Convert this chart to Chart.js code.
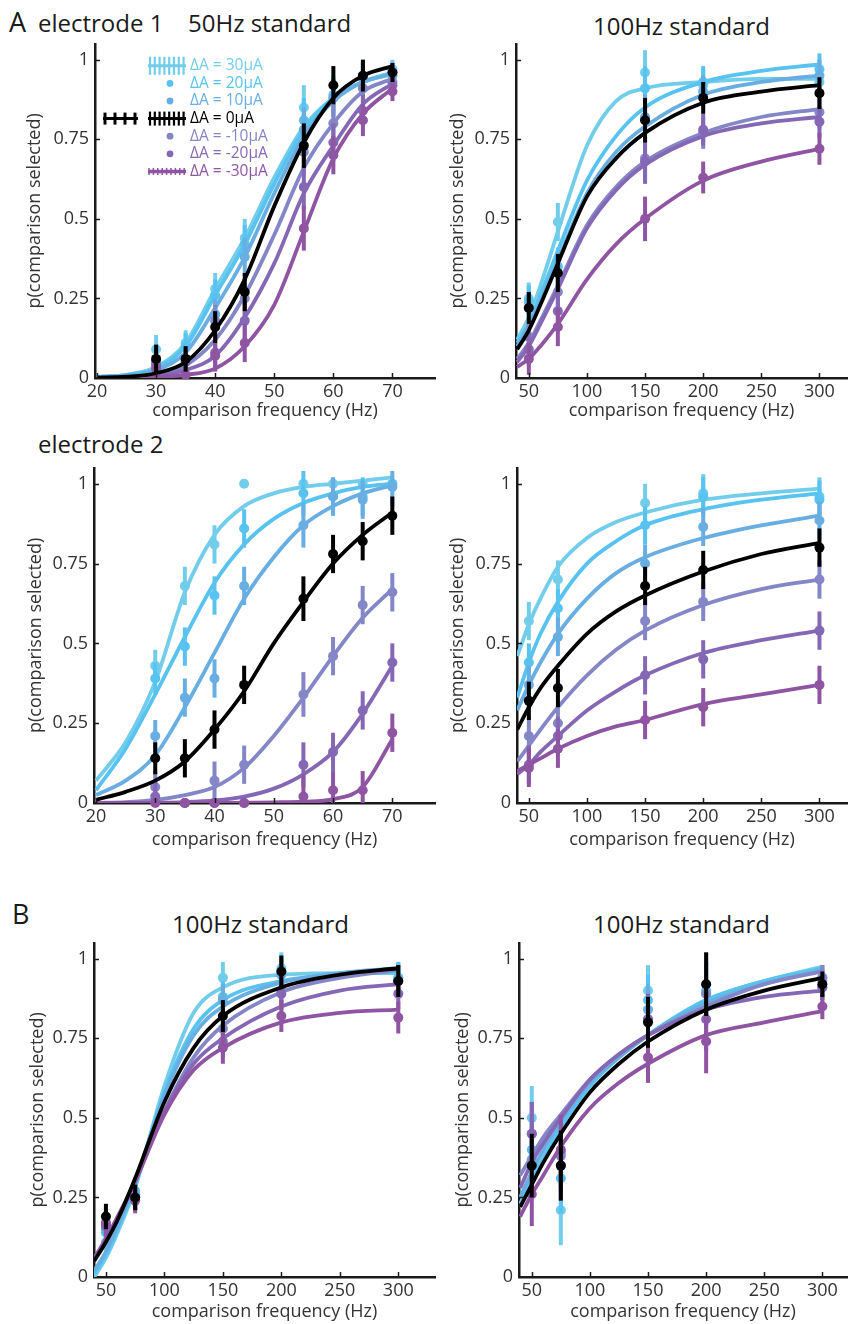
<!DOCTYPE html>
<html>
<head>
<meta charset="utf-8">
<script src="https://cdn.jsdelivr.net/npm/chart.js@4.4.1/dist/chart.umd.min.js"></script>
<style>
  body { margin: 0; background: #fff; width: 852px; height: 1324px; position: relative; overflow: hidden; font-family: 'Open Sans', sans-serif; }
  canvas { position: absolute; }
  .lbl { position: absolute; color: #1a1a1a; white-space: nowrap; line-height: 1; }
</style>
</head>
<body>
<div class="lbl" style="left:9px; top:8px; font-size:27px">A</div>
<div class="lbl" style="left:38px; top:11px; font-size:24px">electrode 1</div>
<div class="lbl" style="left:188px; top:11px; font-size:24px">50Hz standard</div>
<div class="lbl" style="left:593px; top:14px; font-size:24px">100Hz standard</div>
<div class="lbl" style="left:38px; top:432px; font-size:24px">electrode 2</div>
<div class="lbl" style="left:12px; top:900px; font-size:27px">B</div>
<div class="lbl" style="left:172px; top:912px; font-size:24px">100Hz standard</div>
<div class="lbl" style="left:593px; top:912px; font-size:24px">100Hz standard</div>

<canvas id="p1"></canvas>
<canvas id="p2"></canvas>
<canvas id="p3"></canvas>
<canvas id="p4"></canvas>
<canvas id="p5"></canvas>
<canvas id="p6"></canvas>

<script>
// ---------- series ----------
const seriesLabels = ['ΔA = 30μA', 'ΔA = 20μA', 'ΔA = 10μA', 'ΔA = 0μA', 'ΔA = -10μA', 'ΔA = -20μA', 'ΔA = -30μA'];
const seriesColors = ['#72CDEB', '#58C3F0', '#68AEE2', '#000000', '#8486C7', '#8467B5', '#8F55A3'];

// ---------- x positions / ticks ----------
const freqLow = [30, 35, 40, 45, 55, 60, 65, 70];
const freqHigh = [50, 75, 150, 200, 300];
const fitLow = [20, 25, 30, 35, 40, 45, 50, 55, 60, 65, 70];
const fitHigh = [40, 50, 60, 75, 100, 125, 150, 200, 250, 300];
const yTicks = [0, 0.25, 0.5, 0.75, 1];
const xTicksLow = [20, 30, 40, 50, 60, 70];
const xTicksHigh = [50, 100, 150, 200, 250, 300];

// ---------- electrode 1, 50Hz standard ----------
const e1s50Pts = [
  [0.09, 0.11, 0.28, 0.44, 0.85, 0.89, 0.94, 0.97],
  [0.05, 0.10, 0.26, 0.42, 0.81, 0.88, 0.95, 0.96],
  [0.05, 0.06, 0.20, 0.38, 0.78, 0.88, 0.94, 0.95],
  [0.06, 0.06, 0.16, 0.27, 0.73, 0.92, 0.95, 0.96],
  [0.05, 0.06, 0.18, 0.25, 0.71, 0.80, 0.91, 0.93],
  [0.04, 0.05, 0.08, 0.18, 0.60, 0.74, 0.84, 0.92],
  [0.03, 0.01, 0.07, 0.11, 0.47, 0.70, 0.81, 0.90]
];
const e1s50Err = [0.045, 0.04, 0.05, 0.06, 0.07, 0.06, 0.05, 0.03];
const e1s50Fit = [
  [0.003, 0.01, 0.035, 0.11, 0.28, 0.44, 0.63, 0.79, 0.88, 0.93, 0.955],
  [0.003, 0.01, 0.03, 0.10, 0.26, 0.42, 0.61, 0.78, 0.88, 0.93, 0.96],
  [0.002, 0.008, 0.025, 0.08, 0.22, 0.38, 0.58, 0.76, 0.87, 0.93, 0.955],
  [0.001, 0.004, 0.015, 0.05, 0.15, 0.31, 0.54, 0.74, 0.88, 0.95, 0.98],
  [0.001, 0.003, 0.01, 0.04, 0.12, 0.26, 0.45, 0.66, 0.80, 0.90, 0.94],
  [0, 0.002, 0.006, 0.025, 0.07, 0.19, 0.36, 0.58, 0.73, 0.86, 0.925],
  [0, 0.001, 0.003, 0.01, 0.03, 0.10, 0.23, 0.46, 0.69, 0.83, 0.91]
];

// ---------- electrode 1, 100Hz standard ----------
const e1s100Pts = [
  [0.25, 0.49, 0.96, 0.92, 0.93],
  [0.24, 0.35, 0.91, 0.93, 0.97],
  [0.22, 0.33, 0.82, 0.90, 0.95],
  [0.22, 0.33, 0.81, 0.88, 0.895],
  [0.13, 0.27, 0.69, 0.77, 0.835],
  [0.09, 0.21, 0.68, 0.78, 0.805],
  [0.06, 0.16, 0.50, 0.63, 0.72]
];
const e1s100Err = [0.05, 0.06, 0.07, 0.05, 0.05];
const e1s100Fit = [
  [0.12, 0.19, 0.29, 0.46, 0.73, 0.87, 0.91, 0.93, 0.94, 0.94],
  [0.11, 0.17, 0.26, 0.40, 0.62, 0.76, 0.85, 0.93, 0.965, 0.985],
  [0.10, 0.16, 0.24, 0.37, 0.58, 0.71, 0.79, 0.89, 0.93, 0.95],
  [0.09, 0.15, 0.23, 0.36, 0.57, 0.69, 0.77, 0.865, 0.90, 0.92],
  [0.06, 0.11, 0.18, 0.29, 0.48, 0.60, 0.68, 0.77, 0.82, 0.845],
  [0.05, 0.10, 0.17, 0.28, 0.47, 0.59, 0.67, 0.76, 0.80, 0.82],
  [0.035, 0.06, 0.10, 0.17, 0.31, 0.42, 0.50, 0.62, 0.68, 0.72]
];

// ---------- electrode 2, 50Hz standard ----------
const e2s50Pts = [
  [0.43, 0.68, 0.81, 1.0, 1.0, 1.0, 1.0, 1.0],
  [0.39, 0.49, 0.65, 0.86, 0.97, 0.96, 0.96, 1.0],
  [0.21, 0.33, 0.39, 0.68, 0.87, 0.96, 0.95, 0.99],
  [0.14, 0.14, 0.23, 0.37, 0.64, 0.78, 0.82, 0.90],
  [0.05, 0.0, 0.07, 0.12, 0.34, 0.46, 0.62, 0.66],
  [0.02, 0.0, 0.0, 0.0, 0.12, 0.16, 0.29, 0.44],
  [0.0, 0.0, 0.0, 0.0, 0.02, 0.04, 0.04, 0.22]
];
const e2s50Err = [0.05, 0.06, 0.06, 0.06, 0.07, 0.06, 0.06, 0.06];
const e2s50Fit = [
  [0.07, 0.19, 0.38, 0.66, 0.84, 0.93, 0.97, 0.99, 1.0, 1.01, 1.02],
  [0.04, 0.17, 0.34, 0.52, 0.69, 0.81, 0.89, 0.94, 0.97, 0.99, 1.0],
  [0.025, 0.07, 0.15, 0.30, 0.47, 0.64, 0.77, 0.87, 0.93, 0.97, 0.995],
  [0.01, 0.035, 0.07, 0.13, 0.23, 0.35, 0.50, 0.63, 0.75, 0.84, 0.91],
  [0, 0.003, 0.01, 0.025, 0.05, 0.11, 0.21, 0.33, 0.46, 0.58, 0.67],
  [0, 0, 0.001, 0.003, 0.008, 0.02, 0.045, 0.09, 0.16, 0.28, 0.43],
  [0, 0, 0, 0, 0, 0.001, 0.002, 0.004, 0.012, 0.05, 0.20]
];

// ---------- electrode 2, 100Hz standard ----------
const e2s100Pts = [
  [0.57, 0.70, 0.94, 0.97, 0.96],
  [0.44, 0.61, 0.87, 0.96, 0.95],
  [0.37, 0.52, 0.75, 0.865, 0.885],
  [0.32, 0.36, 0.68, 0.73, 0.80],
  [0.21, 0.25, 0.57, 0.63, 0.70],
  [0.12, 0.21, 0.40, 0.45, 0.54],
  [0.11, 0.17, 0.26, 0.30, 0.37]
];
const e2s100Err = [0.06, 0.06, 0.06, 0.06, 0.06];
const e2s100Fit = [
  [0.46, 0.56, 0.64, 0.74, 0.83, 0.88, 0.91, 0.95, 0.97, 0.985],
  [0.33, 0.44, 0.53, 0.63, 0.75, 0.82, 0.87, 0.92, 0.95, 0.97],
  [0.29, 0.37, 0.44, 0.53, 0.64, 0.72, 0.77, 0.83, 0.87, 0.90],
  [0.23, 0.30, 0.36, 0.43, 0.53, 0.60, 0.65, 0.725, 0.78, 0.815],
  [0.13, 0.18, 0.23, 0.30, 0.40, 0.48, 0.54, 0.62, 0.67, 0.70],
  [0.09, 0.12, 0.16, 0.21, 0.29, 0.35, 0.40, 0.47, 0.51, 0.54],
  [0.10, 0.12, 0.14, 0.17, 0.21, 0.24, 0.26, 0.31, 0.34, 0.37]
];

// ---------- B left, 100Hz standard ----------
const bLeftPts = [
  [0.11, 0.27, 0.94, 0.97, 0.94],
  [0.14, 0.27, 0.88, 0.96, 0.94],
  [0.15, 0.26, 0.87, 0.95, 0.93],
  [0.19, 0.25, 0.82, 0.96, 0.93],
  [0.16, 0.25, 0.78, 0.90, 0.93],
  [0.16, 0.25, 0.74, 0.89, 0.89],
  [0.17, 0.24, 0.72, 0.82, 0.815]
];
const bLeftErr = [0.04, 0.04, 0.05, 0.05, 0.05];
const bLeftFit = [
  [0.0, 0.06, 0.14, 0.28, 0.60, 0.83, 0.91, 0.95, 0.955, 0.955],
  [0.01, 0.07, 0.15, 0.29, 0.58, 0.78, 0.87, 0.93, 0.95, 0.96],
  [0.02, 0.08, 0.16, 0.30, 0.57, 0.76, 0.85, 0.925, 0.955, 0.97],
  [0.05, 0.11, 0.18, 0.31, 0.55, 0.72, 0.82, 0.91, 0.95, 0.97],
  [0.06, 0.11, 0.18, 0.30, 0.52, 0.69, 0.79, 0.895, 0.94, 0.965],
  [0.06, 0.11, 0.18, 0.30, 0.52, 0.67, 0.75, 0.85, 0.90, 0.92],
  [0.06, 0.12, 0.19, 0.30, 0.51, 0.65, 0.72, 0.80, 0.83, 0.84]
];

// ---------- B right, 100Hz standard ----------
const bRightPts = [
  [0.50, 0.21, 0.90, 0.92, 0.91],
  [0.40, 0.31, 0.87, 0.90, 0.93],
  [0.37, 0.39, 0.84, 0.89, 0.94],
  [0.35, 0.35, 0.80, 0.92, 0.92],
  [0.45, 0.38, 0.81, 0.89, 0.94],
  [0.45, 0.35, 0.81, 0.81, 0.91],
  [0.26, 0.40, 0.69, 0.74, 0.85]
];
const bRightErr = [0.10, 0.11, 0.08, 0.10, 0.04];
const bRightFit = [
  [0.23, 0.31, 0.38, 0.48, 0.60, 0.69, 0.76, 0.87, 0.93, 0.975],
  [0.22, 0.30, 0.37, 0.47, 0.60, 0.69, 0.76, 0.87, 0.93, 0.97],
  [0.25, 0.33, 0.40, 0.49, 0.61, 0.69, 0.76, 0.86, 0.92, 0.965],
  [0.22, 0.29, 0.36, 0.45, 0.58, 0.67, 0.74, 0.84, 0.90, 0.94],
  [0.32, 0.38, 0.44, 0.51, 0.62, 0.70, 0.76, 0.85, 0.92, 0.96],
  [0.28, 0.36, 0.42, 0.50, 0.62, 0.70, 0.76, 0.84, 0.88, 0.90],
  [0.19, 0.26, 0.32, 0.41, 0.53, 0.61, 0.67, 0.76, 0.80, 0.835]
];

// ==========================================
// drawing helpers
// ==========================================
Chart.defaults.font.family = "'Open Sans', sans-serif";
Chart.defaults.color = '#333';

// error bars (drawn under the markers) + inward MATLAB-style ticks
const decorPlugin = {
  id: 'decor',
  beforeDatasetDraw(chart, args) {
    const ds = chart.data.datasets[args.index];
    if (!ds.errs) return;
    const ctx = chart.ctx, xs = chart.scales.x, ys = chart.scales.y;
    ctx.save();
    ctx.strokeStyle = ds.pointBackgroundColor;
    ctx.lineWidth = 4;
    ds.data.forEach((p, j) => {
      if (p.y <= 0 || p.y >= 1) return;
      const px = xs.getPixelForValue(p.x);
      ctx.beginPath();
      ctx.moveTo(px, ys.getPixelForValue(Math.max(0, p.y - ds.errs[j])));
      ctx.lineTo(px, ys.getPixelForValue(Math.min(1.04, p.y + ds.errs[j])));
      ctx.stroke();
    });
    ctx.restore();
  },
  afterDraw(chart) {
    const ctx = chart.ctx, a = chart.chartArea, xs = chart.scales.x, ys = chart.scales.y;
    ctx.save();
    ctx.strokeStyle = '#1a1a1a';
    ctx.lineWidth = 1.5;
    ys.ticks.forEach(t => {
      if (t.value === 0) return;
      const py = Math.round(ys.getPixelForValue(t.value)) + 0.5;
      ctx.beginPath(); ctx.moveTo(a.left, py); ctx.lineTo(a.left + 5, py); ctx.stroke();
    });
    xs.ticks.forEach(t => {
      const px = Math.round(xs.getPixelForValue(t.value)) + 0.5;
      ctx.beginPath(); ctx.moveTo(px, a.bottom); ctx.lineTo(px, a.bottom - 5); ctx.stroke();
    });
    ctx.restore();
  }
};

// legend of panel A/electrode 1 (errorbar-style markers like the original)
const ampLegend = {
  id: 'ampLegend',
  afterDatasetsDraw(chart) {
    const ctx = chart.ctx, a = chart.chartArea;
    const seg = (x0, y0, x1, y1) => { ctx.beginPath(); ctx.moveTo(x0, y0); ctx.lineTo(x1, y1); ctx.stroke(); };
    ctx.save();
    ctx.font = "15.5px 'Open Sans', sans-serif";
    ctx.textBaseline = 'middle';
    seriesLabels.forEach((lab, i) => {
      const y = a.top + 22 + i * 17.6;
      const col = seriesColors[i];
      const x0 = a.left + 53, x1 = a.left + 91;
      ctx.strokeStyle = col; ctx.fillStyle = col;
      if (i === 0 || i === 3) {
        const h = i === 0 ? 9 : 7;
        ctx.lineWidth = 3; seg(x0, y, x1, y);
        ctx.lineWidth = 2.2;
        for (let k = 0; k < 8; k++) seg(x0 + 2 + k * 4.8, y - h, x0 + 2 + k * 4.8, y + h);
        if (i === 3) {
          ctx.lineWidth = 3; seg(a.left + 8, y, a.left + 43, y);
          for (let k = 0; k < 4; k++) seg(a.left + 10 + k * 10, y - 6, a.left + 10 + k * 10, y + 6);
        }
      } else if (i === 6) {
        ctx.lineWidth = 3.5; seg(x0, y, x1, y);
        ctx.lineWidth = 1.5;
        for (let k = 0; k < 9; k++) seg(x0 + 1 + k * 4.4, y - 3.5, x0 + 1 + k * 4.4, y + 3.5);
      } else {
        ctx.beginPath(); ctx.arc(a.left + 75, y, 3.4, 0, Math.PI * 2); ctx.fill();
      }
      ctx.fillStyle = col;
      ctx.fillText(lab, a.left + 95, y);
    });
    ctx.restore();
  }
};

// draw order: light blues, purples, then black on top
function drawRank(s) { return s < 3 ? s : (s === 3 ? 6 : s - 1); }

function buildPanel(id, box, xMin, xMax, xTicks, xs, pts, errs, fitXs, fits, extra) {
  const cv = document.getElementById(id);
  const cTop = box.top - 10, cBottom = box.xty + 25;
  cv.width = box.cr - box.cl;
  cv.height = cBottom - cTop;
  cv.style.left = box.cl + 'px';
  cv.style.top = cTop + 'px';

  const datasets = [];
  seriesColors.forEach((col, s) => {
    const rank = drawRank(s);
    datasets.push({
      label: seriesLabels[s] + ' fit',
      data: fitXs.map((x, j) => ({ x: x, y: fits[s][j] })),
      borderColor: col, borderWidth: 3.8, pointRadius: 0,
      cubicInterpolationMode: 'monotone', fill: false, order: 100 - rank * 2
    });
    datasets.push({
      label: seriesLabels[s],
      data: xs.map((x, j) => ({ x: x, y: pts[s][j] })),
      showLine: false, pointRadius: 5, pointBorderWidth: 0,
      pointBackgroundColor: col, borderColor: col, errs: errs,
      clip: false, order: 99 - rank * 2
    });
  });

  const titleFont = { size: 18 };
  return new Chart(cv, {
    type: 'line',
    data: { datasets: datasets },
    options: {
      responsive: false, animation: false,
      layout: { padding: { left: 0, top: 10, right: box.cr - box.right, bottom: 0 } },
      plugins: { legend: { display: false }, tooltip: { enabled: false } },
      scales: {
        x: {
          type: 'linear', position: 'bottom', min: xMin, max: xMax,
          afterBuildTicks: sc => { sc.ticks = xTicks.map(v => ({ value: v })); },
          afterFit: sc => { sc.height = cBottom - box.zero; },
          ticks: { padding: 3, font: { size: 18 }, color: '#333', maxRotation: 0, autoSkip: false, callback: v => String(v) },
          grid: { drawOnChartArea: false, drawTicks: false },
          border: { color: '#1a1a1a', width: 2.5 },
          title: { display: true, text: 'comparison frequency (Hz)', font: titleFont, color: '#333',
                   padding: { top: 0, bottom: cBottom - box.xty - 10.8 } }
        },
        y: {
          type: 'linear', position: 'left', min: 0, max: 1.05,
          afterBuildTicks: sc => { sc.ticks = yTicks.map(v => ({ value: v })); },
          afterFit: sc => { sc.width = box.left - box.cl; },
          ticks: { padding: 6, font: { size: 18 }, color: '#333', autoSkip: false, callback: v => String(v) },
          grid: { drawOnChartArea: false, drawTicks: false },
          border: { color: '#1a1a1a', width: 2.5 },
          title: { display: true, text: 'p(comparison selected)', font: titleFont, color: '#333',
                   padding: { top: box.ytx - box.cl - 10.8, bottom: 0 } }
        }
      }
    },
    plugins: [decorPlugin].concat(extra || [])
  });
}

// panel boxes: canvas left/right, plot top, y=0 line, axis left/right, y-title x, x-title y
buildPanel('p1', { cl: 0, cr: 440, top: 37, zero: 378, left: 95, right: 438, ytx: 35, xty: 411 },
  19.66, 77.2, xTicksLow, freqLow, e1s50Pts, e1s50Err, fitLow, e1s50Fit, [ampLegend]);
buildPanel('p2', { cl: 440, cr: 852, top: 37, zero: 378, left: 516, right: 852, ytx: 458, xty: 411 },
  39, 323.7, xTicksHigh, freqHigh, e1s100Pts, e1s100Err, fitHigh, e1s100Fit);
buildPanel('p3', { cl: 0, cr: 440, top: 461, zero: 803, left: 94, right: 438, ytx: 36, xty: 840 },
  19.67, 77.2, xTicksLow, freqLow, e2s50Pts, e2s50Err, fitLow, e2s50Fit);
buildPanel('p4', { cl: 440, cr: 852, top: 461, zero: 803, left: 517, right: 852, ytx: 458, xty: 840 },
  39.8, 323.7, xTicksHigh, freqHigh, e2s100Pts, e2s100Err, fitHigh, e2s100Fit);
buildPanel('p5', { cl: 0, cr: 440, top: 936, zero: 1277, left: 94, right: 438, ytx: 38, xty: 1312 },
  39.8, 331.4, xTicksHigh, freqHigh, bLeftPts, bLeftErr, fitHigh, bLeftFit);
buildPanel('p6', { cl: 440, cr: 852, top: 936, zero: 1277, left: 519, right: 852, ytx: 463, xty: 1312 },
  39, 321.2, xTicksHigh, freqHigh, bRightPts, bRightErr, fitHigh, bRightFit);
</script>
</body>
</html>
